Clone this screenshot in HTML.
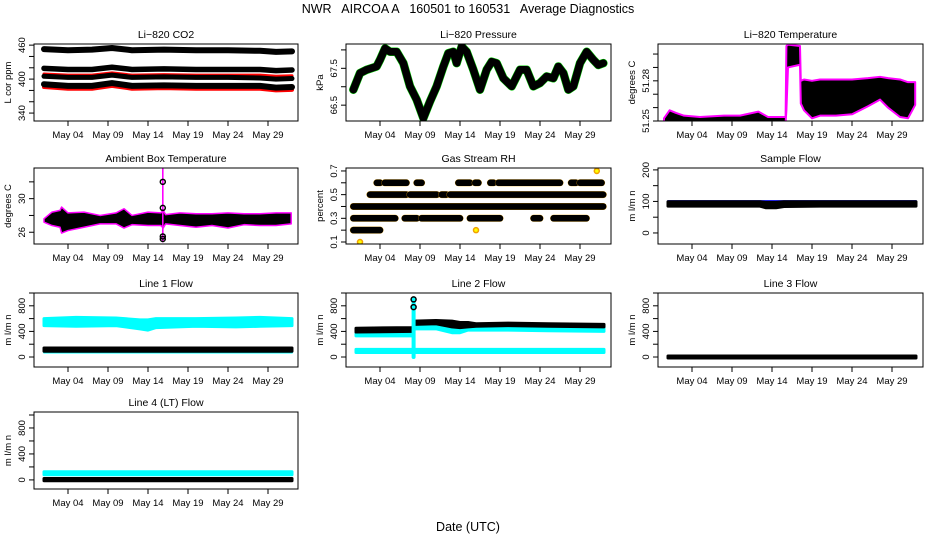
<!DOCTYPE html>
<html>
<head>
<meta charset="utf-8">
<style>
html,body{margin:0;padding:0;background:#fff;}
#wrap{position:relative;width:936px;height:540px;overflow:hidden;font-family:"Liberation Sans",sans-serif;}
svg text{font-family:"Liberation Sans",sans-serif;}
</style>
</head>
<body>
<div id="wrap">
<svg id="fig" width="936" height="540" viewBox="0 0 936 540" xmlns="http://www.w3.org/2000/svg">
<text x="468" y="13" text-anchor="middle" font-size="12.5" xml:space="preserve">NWR   AIRCOA A   160501 to 160531   Average Diagnostics</text>
<text x="468" y="531" text-anchor="middle" font-size="12.5">Date (UTC)</text>
</svg>
</div>
<script>
// ---------- shared ----------
const xTickDays = [4, 9, 14, 19, 24, 29];
const xTickLabels = ["May 04", "May 09", "May 14", "May 19", "May 24", "May 29"];

// ---------- CO2 ----------
const co2Days = [1, 4, 7, 9.5, 12, 16, 20, 24, 28, 30, 32];
const co2S1 = [453, 451, 452, 455, 451, 452, 451, 451, 450, 448, 449];
const co2S2 = [419, 417, 417, 421, 417, 418, 417, 417, 417, 415, 416];
const co2R1 = [409, 407, 407, 411, 407, 408, 407, 407, 407, 405, 406];
const co2S3 = [405, 403, 403, 407, 403, 404, 403, 403, 402, 400, 401];
const co2S4 = [391, 388, 388, 393, 388, 389, 388, 388, 388, 385, 386];
const co2R2 = [386, 383, 383, 388, 383, 384, 383, 383, 383, 380, 381];

// ---------- Pressure ----------
const presDays = [0.67,1.5,2.33,3.58,4.0,4.63,5.25,6.08,6.92,7.75,8.58,9.42,10.25,11.08,11.92,12.54,13.17,13.58,14.21,14.83,15.67,16.5,17.33,17.96,18.58,19.42,20.46,21.5,22.33,23.17,24.0,24.83,25.67,26.29,26.92,27.54,28.17,29.0,29.83,30.67,31.29,31.92];
const presVals = [66.92,67.37,67.46,67.55,67.73,68.04,67.95,67.95,67.64,67.01,66.65,66.15,66.60,67.01,67.55,67.91,67.95,67.64,68.09,67.95,67.46,66.92,67.46,67.68,67.64,67.23,67.01,67.46,67.46,67.01,67.10,67.28,67.23,67.55,67.37,66.92,67.01,67.64,67.95,67.73,67.59,67.64];

// ---------- Li-820 Temperature ----------
const tempDays = [0.5,1.2,2,3,5,8,10,12.3,13.5,15.7,15.8,16.0,17.5,17.6,18,19,20,22,24,26,27.5,28.5,30,31,31.9];
const tempHi = [51.252,51.258,51.256,51.254,51.253,51.254,51.254,51.257,51.253,51.253,51.306,51.307,51.306,51.280,51.281,51.280,51.281,51.281,51.281,51.282,51.283,51.282,51.281,51.279,51.279];
const tempLo = [51.249,51.249,51.249,51.249,51.249,51.249,51.249,51.249,51.249,51.249,51.258,51.290,51.292,51.263,51.258,51.252,51.254,51.254,51.255,51.261,51.266,51.260,51.253,51.252,51.262];

// ---------- Ambient Box Temperature ----------
const ambDays = [1,2,3,3.2,4,6,8,10,11,12,14,15.6,15.9,16.2,18,20,22,24,26,28,30,31.9];
const ambLo = [27.2,26.8,26.6,25.9,26.2,26.6,27.0,27.0,26.5,26.9,26.8,26.8,26.5,27.0,26.8,26.6,26.8,26.5,26.9,26.8,26.8,27.0];
const ambHi = [27.6,28.4,28.6,29.0,28.3,28.4,28.0,28.3,28.8,28.0,28.4,28.3,28.6,28.1,28.3,28.2,28.2,28.3,28.2,28.2,28.3,28.3];
const ambSpike = [15.75, 15.95, 24.8, 33.7];
const ambSpikePts = [32.0, 28.9, 25.5, 25.2];

// ---------- Gas Stream RH ----------
const rhLevels = [0.2, 0.3, 0.4, 0.5, 0.6];
const rhSegs = [
  [[0.67, 4.0]],
  [[0.67, 5.9], [7.1, 8.6], [9.2, 14.0], [15.25, 19.0], [23.2, 24.0], [25.7, 29.8]],
  [[0.67, 31.9]],
  [[2.75, 7.3], [7.75, 11.1], [11.7, 12.3], [12.75, 31.9]],
  [[3.6, 4.0], [4.6, 7.3], [8.6, 9.2], [13.8, 15.25], [15.9, 16.3], [17.8, 18.2], [18.8, 26.5], [27.9, 28.5], [29.0, 31.7]]
];
const rhSingles = [[1.5, 0.1], [31.1, 0.7], [16.0, 0.2]];

// ---------- Sample Flow ----------
const sfDays = [1, 8, 12.5, 13.2, 14.5, 15.5, 20, 25, 32];
const sfLo = [85, 85, 85, 80, 80, 84, 85, 85, 85];
const sfHi = [99, 99, 99, 97, 97, 99, 99, 99, 99];
const sfBlue = [101, 101, 101, 101, 101, 101, 101, 101, 101];

// ---------- Line 1 Flow ----------
const l1Days = [1, 5, 10, 13, 14, 15, 20, 25, 28, 32];
const l1CyanLo = [490, 480, 490, 440, 420, 460, 480, 470, 480, 490];
const l1CyanHi = [600, 620, 610, 580, 580, 600, 600, 610, 620, 600];
const l1BlackLo = [90, 90, 90, 90, 90, 90, 90, 90, 90, 90];
const l1BlackHi = [140, 140, 140, 140, 140, 140, 140, 140, 140, 140];
const l1CyanBotLo = [70, 70, 70, 70, 70, 70, 70, 70, 70, 70];

// ---------- Line 2 Flow ----------
const l2Days = [1, 8.1, 8.3, 11, 13, 14, 15, 16, 20, 25, 32];
const l2BlackLo = [390, 400, 510, 520, 470, 460, 470, 480, 490, 480, 470];
const l2BlackHi = [450, 460, 560, 570, 560, 540, 540, 520, 530, 520, 510];
const l2CyanLo = [330, 330, 440, 440, 380, 380, 420, 420, 420, 410, 400];
const l2CyanHi = [390, 400, 490, 490, 460, 450, 450, 460, 460, 450, 450];
const l2BotLo = [70, 70, 70, 70, 70, 70, 70, 70, 70, 70, 70];
const l2BotHi = [120, 120, 120, 120, 120, 120, 120, 120, 120, 120, 120];
const l2Spike = [8.2, 0, 900];
const l2SpikePts = [780, 900];

// ---------- Line 3 Flow ----------
const l3Days = [1, 32];
const l3Lo = [-15, -15];
const l3Hi = [15, 15];

// ---------- Line 4 Flow ----------
const l4Days = [1, 32];
const l4CyanLo = [80, 80];
const l4CyanHi = [125, 125];
const l4BlackLo = [-12, -12];
const l4BlackHi = [22, 22];

const NS = "http://www.w3.org/2000/svg";
const svg = document.getElementById("fig");

function mk(tag, attrs, parent) {
  const e = document.createElementNS(NS, tag);
  for (const k in attrs) e.setAttribute(k, attrs[k]);
  (parent || svg).appendChild(e);
  return e;
}

function makePanel(name, title, box, ylim, yTicks, yLabels, yTitle) {
  const g = mk("g", {});
  
  
  const xmin = -0.25, xmax = xmin + (box.r - box.l) / 8;
  const P = {
    g: g,
    x: d => box.l + (d - xmin) * (box.r - box.l) / (xmax - xmin),
    y: v => box.b - (v - ylim[0]) * (box.b - box.t) / (ylim[1] - ylim[0]),
    box: box
  };
  const clip = mk("clipPath", { id: "clip-" + name }, g);
  mk("rect", { x: box.l, y: box.t, width: box.r - box.l, height: box.b - box.t }, clip);
  P.plot = mk("g", { "clip-path": "url(#clip-" + name + ")" }, g);
  
  

  const t = mk("text", { x: (box.l + box.r) / 2, y: box.t - 6, "text-anchor": "middle", "font-size": "10.5" }, g);
  t.textContent = title;
  
  

  xTickDays.forEach((d, i) => {
    const xx = P.x(d);
    const tk = mk("line", { x1: xx, x2: xx, y1: box.b, y2: box.b + 5, stroke: "#000", "stroke-width": 1 }, g);
    
    
    const lb = mk("text", { x: xx, y: box.b + 17, "text-anchor": "middle", "font-size": "9.5" }, g);
    lb.textContent = xTickLabels[i];
    
    
  });
  yTicks.forEach(v => {
    const yy = P.y(v);
    const tk = mk("line", { x1: box.l - 5, x2: box.l, y1: yy, y2: yy, stroke: "#000", "stroke-width": 1 }, g);
    
    
  });
  const ya = mk("line", { x1: box.l, x2: box.l, y1: P.y(yTicks[0]), y2: P.y(yTicks[yTicks.length - 1]), stroke: "#000" }, g);
  
  
  yLabels.forEach(lv => {
    const yy = P.y(lv[0]);
    const lb = mk("text", { x: 0, y: 0, "text-anchor": "middle", "font-size": "9.5", transform: "translate(" + (box.l - 9) + "," + yy + ") rotate(-90)" }, g);
    lb.textContent = lv[1];
    
    
  });
  const yt = mk("text", { x: 0, y: 0, "text-anchor": "middle", "font-size": "9.5", transform: "translate(" + (box.l - 23) + "," + ((box.t + box.b) / 2) + ") rotate(-90)" }, g);
  yt.textContent = yTitle;
  
  

  P.finish = function () {
    const fr = mk("rect", { x: box.l, y: box.t, width: box.r - box.l, height: box.b - box.t, fill: "none", stroke: "#000", "stroke-width": 1 }, g);
    
    
  };
  return P;
}

function band(P, days, lo, hi, fill, outline, ow, nm) {
  let pts = [];
  for (let i = 0; i < days.length; i++) pts.push(P.x(days[i]) + "," + P.y(hi[i]));
  for (let i = days.length - 1; i >= 0; i--) pts.push(P.x(days[i]) + "," + P.y(lo[i]));
  const e = mk("polygon", { points: pts.join(" "), fill: fill, stroke: outline || fill, "stroke-width": ow || 4, "stroke-linejoin": "round" }, P.plot);
  
  
  return e;
}
function line(P, days, vals, color, w, nm) {
  const pts = days.map((d, i) => P.x(d) + "," + P.y(vals[i])).join(" ");
  const e = mk("polyline", { points: pts, fill: "none", stroke: color, "stroke-width": w, "stroke-linejoin": "round", "stroke-linecap": "round" }, P.plot);
  
  
  return e;
}
function circle(P, d, v, color, fill, nm) {
  const e = mk("circle", { cx: P.x(d), cy: P.y(v), r: 2.5, fill: fill || "none", stroke: color, "stroke-width": 1.5 }, P.plot);
  
  
}

const C1 = { l: 34, r: 298 }, C2 = { l: 346, r: 611 }, C3 = { l: 658, r: 923 };
const R1 = { t: 44, b: 121 }, R2 = { t: 168, b: 244 }, R3 = { t: 293, b: 367 }, R4 = { t: 412, b: 489 };
const B = (c, r) => ({ l: c.l, r: c.r, t: r.t, b: r.b });
const flowTicks = [0, 200, 400, 600, 800, 1000];
const flowLabels = [[0, "0"], [400, "400"], [800, "800"]];

// ---- panel: CO2 ----
let P = makePanel("co2-panel", "Li\u2212820 CO2", B(C1, R1), [326, 462], [340, 360, 380, 400, 420, 440, 460], [[340, "340"], [400, "400"], [460, "460"]], "L cor ppm");
line(P, co2Days, co2R2, "#f00", 4, "co2-red-series-low");
line(P, co2Days, co2S4, "#000", 6, "co2-series-4");
line(P, co2Days, co2R1, "#f00", 3, "co2-red-series-high");
line(P, co2Days, co2S3, "#000", 5, "co2-series-3");
line(P, co2Days, co2S2, "#000", 5.5, "co2-series-2");
line(P, co2Days, co2S1, "#000", 6, "co2-series-1");
P.finish();

// ---- panel: Pressure ----
P = makePanel("pressure-panel", "Li\u2212820 Pressure", B(C2, R1), [66.07, 68.16], [66.5, 67.0, 67.5, 68.0], [[66.5, "66.5"], [67.5, "67.5"]], "kPa");
line(P, presDays, presVals, "#0c0", 8.5, "pressure-green-outline");
line(P, presDays, presVals, "#000", 7.5, "pressure-series");
P.finish();

// ---- panel: Li-820 Temperature ----
P = makePanel("li820-temp-panel", "Li\u2212820 Temperature", B(C3, R1), [51.25, 51.3075], [51.25, 51.26, 51.27, 51.28, 51.29, 51.30], [[51.25, "51.25"], [51.28, "51.28"]], "degrees C");
band(P, tempDays, tempLo, tempHi, "#000", "#f0f", 2, "li820-temp-band");
P.finish();

// ---- panel: Ambient ----
P = makePanel("ambient-temp-panel", "Ambient Box Temperature", B(C1, R2), [24.6, 33.65], [26, 28, 30, 32], [[26, "26"], [30, "30"]], "degrees C");
band(P, ambDays, ambLo, ambHi, "#000", "#f0f", 1.5, "ambient-temp-band");
(function () {
  const e = mk("rect", { x: P.x(ambSpike[0]), y: P.y(ambSpike[3]), width: P.x(ambSpike[1]) - P.x(ambSpike[0]), height: P.y(ambSpike[2]) - P.y(ambSpike[3]), fill: "#f0f" }, P.plot);
  
  
})();
ambSpikePts.forEach(v => circle(P, (ambSpike[0] + ambSpike[1]) / 2, v, "#000", null, "ambient-spike-point"));
P.finish();

// ---- panel: Gas Stream RH ----
P = makePanel("rh-panel", "Gas Stream RH", B(C2, R2), [0.083, 0.725], [0.1, 0.2, 0.3, 0.4, 0.5, 0.6, 0.7], [[0.1, "0.1"], [0.3, "0.3"], [0.5, "0.5"], [0.7, "0.7"]], "percent");
rhLevels.forEach((lv, i) => {
  rhSegs[i].forEach(s => {
    line(P, s, [lv, lv], "#e8a000", 7, "rh-segment-outline");
    line(P, s, [lv, lv], "#000", 6.5, "rh-segment");
  });
});
rhSingles.forEach(p => circle(P, p[0], p[1], "#f0a000", "#ff0", "rh-single-point"));
P.finish();

// ---- panel: Sample Flow ----
P = makePanel("sample-flow-panel", "Sample Flow", B(C3, R2), [-35, 206], [0, 50, 100, 150, 200], [[0, "0"], [100, "100"], [200, "200"]], "m l/m n");
line(P, sfDays, sfBlue, "#00f", 2, "sample-flow-blue");
band(P, sfDays, sfLo, sfHi, "#000", "#000", 3, "sample-flow-band");
P.finish();

// ---- panel: Line 1 ----
P = makePanel("line1-flow-panel", "Line 1 Flow", B(C1, R3), [-156, 1000], flowTicks, flowLabels, "m l/m n");
band(P, l1Days, l1CyanLo, l1CyanHi, "#0ff", "#0ff", 3, "line1-cyan-band");
band(P, l1Days, l1CyanBotLo, l1BlackHi, "#0ff", "#0ff", 2, "line1-cyan-low");
band(P, l1Days, l1BlackLo, l1BlackHi, "#000", "#000", 3, "line1-black-band");
P.finish();

// ---- panel: Line 2 ----
P = makePanel("line2-flow-panel", "Line 2 Flow", B(C2, R3), [-156, 1000], flowTicks, flowLabels, "m l/m n");
band(P, l2Days, l2BotLo, l2BotHi, "#0ff", "#0ff", 3, "line2-cyan-low-band");
band(P, l2Days, l2CyanLo, l2CyanHi, "#0ff", "#0ff", 3, "line2-cyan-band");
band(P, l2Days, l2BlackLo, l2BlackHi, "#000", "#000", 3, "line2-black-band");
line(P, [l2Spike[0], l2Spike[0]], [l2Spike[1], l2Spike[2]], "#0ff", 4, "line2-spike");
l2SpikePts.forEach(v => circle(P, l2Spike[0], v, "#000", null, "line2-spike-point"));
P.finish();

// ---- panel: Line 3 ----
P = makePanel("line3-flow-panel", "Line 3 Flow", B(C3, R3), [-156, 1000], flowTicks, flowLabels, "m l/m n");
band(P, l3Days, l3Lo, l3Hi, "#000", "#000", 3, "line3-black-band");
P.finish();

// ---- panel: Line 4 ----
P = makePanel("line4-flow-panel", "Line 4 (LT) Flow", B(C1, R4), [-140, 1046], flowTicks, flowLabels, "m l/m n");
band(P, l4Days, l4CyanLo, l4CyanHi, "#0ff", "#0ff", 3, "line4-cyan-band");
band(P, l4Days, l4BlackLo, l4BlackHi, "#000", "#000", 3, "line4-black-band");
P.finish();
</script>
</body>
</html>
